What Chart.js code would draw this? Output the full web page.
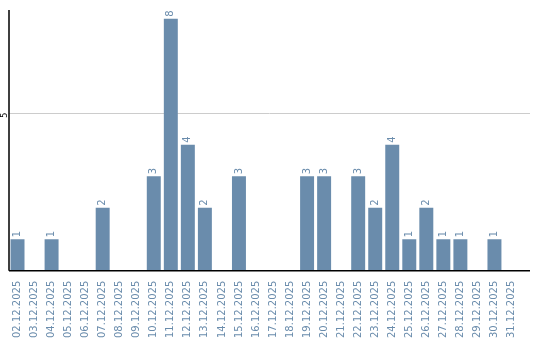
<!DOCTYPE html>
<html>
<head>
<meta charset="utf-8">
<script src="https://cdn.jsdelivr.net/npm/chart.js@4/dist/chart.umd.min.js"></script>
<style>
  html, body { margin: 0; padding: 0; background: #fff; }
  #wrap { width: 540px; height: 340px; }
</style>
</head>
<body>
<div id="wrap"><canvas id="c"></canvas></div>
<script>
// Daily counts, December 2025
const days = [
    '02.12.2025', '03.12.2025', '04.12.2025', '05.12.2025', '06.12.2025',
    '07.12.2025', '08.12.2025', '09.12.2025', '10.12.2025', '11.12.2025',
    '12.12.2025', '13.12.2025', '14.12.2025', '15.12.2025', '16.12.2025',
    '17.12.2025', '18.12.2025', '19.12.2025', '20.12.2025', '21.12.2025',
    '22.12.2025', '23.12.2025', '24.12.2025', '25.12.2025', '26.12.2025',
    '27.12.2025', '28.12.2025', '29.12.2025', '30.12.2025', '31.12.2025'
];
const counts = [1, 0, 1, 0, 0, 2, 0, 0, 3, 8, 4, 2, 0, 3, 0, 0, 0, 3, 3, 0, 3, 2, 4, 1, 2, 1, 1, 0, 1, 0];
const yTicks = [5];

const BAR_COLOR = '#6a8cac';
const FONT = "'DejaVu Sans', sans-serif";
const EXTRA_RIGHT = 10; // axis lines run a bit past the last category

// grid line and x axis line, drawn a little wider than the category area
const axisLines = {
    id: 'axisLines',
    beforeDatasetsDraw(chart) {
        const ctx = chart.ctx;
        const area = chart.chartArea;
        const y = chart.scales.y;
        ctx.save();
        ctx.strokeStyle = '#cccccc';
        ctx.lineWidth = 1;
        yTicks.forEach(v => {
            const py = Math.round(y.getPixelForValue(v)) + 0.5;
            ctx.beginPath();
            ctx.moveTo(area.left, py);
            ctx.lineTo(area.right + EXTRA_RIGHT, py);
            ctx.stroke();
        });
        ctx.restore();
    },
    afterDatasetsDraw(chart) {
        const ctx = chart.ctx;
        const area = chart.chartArea;
        ctx.save();
        ctx.strokeStyle = '#000';
        ctx.lineWidth = 1.5;
        ctx.beginPath();
        ctx.moveTo(area.left, area.bottom);
        ctx.lineTo(area.right + EXTRA_RIGHT, area.bottom);
        ctx.moveTo(area.left, area.top);
        ctx.lineTo(area.left, area.bottom);
        ctx.stroke();
        ctx.restore();
    }
};

// value labels above bars, rotated, plus the rotated y tick labels
const rotatedLabels = {
    id: 'rotatedLabels',
    afterDatasetsDraw(chart) {
        const ctx = chart.ctx;
        const meta = chart.getDatasetMeta(0);
        ctx.save();
        ctx.font = '10px ' + FONT;
        ctx.fillStyle = BAR_COLOR;
        ctx.textAlign = 'left';
        ctx.textBaseline = 'middle';
        meta.data.forEach((bar, i) => {
            if (!counts[i]) return;
            ctx.save();
            ctx.translate(bar.x, bar.y - 2);
            ctx.rotate(-Math.PI / 2);
            ctx.fillText(String(counts[i]), 0, 0);
            ctx.restore();
        });
        const y = chart.scales.y;
        ctx.fillStyle = '#000';
        ctx.font = '8px ' + FONT;
        ctx.textAlign = 'center';
        ctx.textBaseline = 'middle';
        yTicks.forEach(v => {
            ctx.save();
            ctx.translate(4.5, y.getPixelForValue(v) + 2);
            ctx.rotate(-Math.PI / 2);
            ctx.fillText(String(v), 0, 0);
            ctx.restore();
        });
        ctx.restore();
    }
};

new Chart(document.getElementById('c'), {
    type: 'bar',
    data: {
        labels: days,
        datasets: [{
            data: counts,
            backgroundColor: BAR_COLOR,
            barPercentage: 0.82,
            categoryPercentage: 1
        }]
    },
    options: {
        responsive: true,
        maintainAspectRatio: false,
        animation: false,
        layout: { padding: { left: 9, right: 10 + EXTRA_RIGHT, top: 10, bottom: 0 } },
        plugins: {
            legend: { display: false },
            tooltip: { enabled: false }
        },
        scales: {
            x: {
                grid: { display: false },
                border: { display: false },
                ticks: {
                    color: BAR_COLOR,
                    font: { family: FONT, size: 10 },
                    minRotation: 90,
                    maxRotation: 90,
                    autoSkip: false,
                    padding: 2
                }
            },
            y: {
                display: false,
                min: 0,
                max: 8.28
            }
        }
    },
    plugins: [axisLines, rotatedLabels]
});
</script>
</body>
</html>
